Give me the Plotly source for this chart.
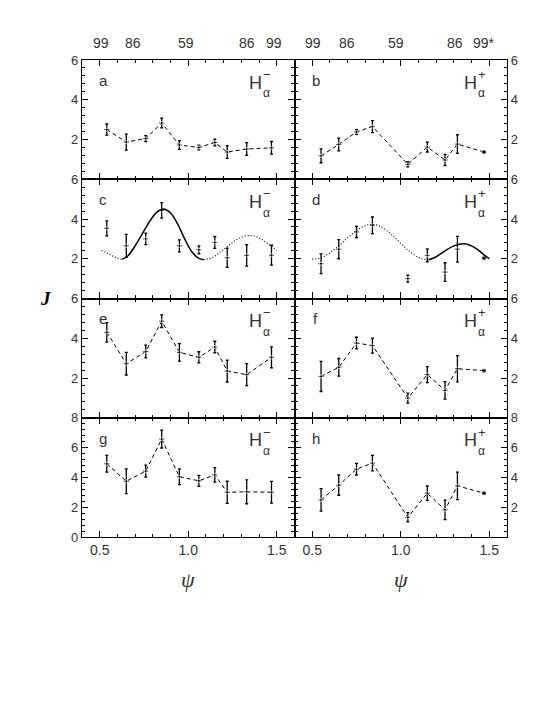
import plotly.graph_objects as go
from plotly.subplots import make_subplots

# ---- data ----
x_left = [0.54, 0.65, 0.76, 0.85, 0.95, 1.06, 1.15, 1.22, 1.33, 1.47]
x_right = [0.55, 0.65, 0.75, 0.84, 1.04, 1.15, 1.25, 1.32, 1.47]

y_a = [2.5, 1.87, 2.05, 2.83, 1.72, 1.6, 1.85, 1.37, 1.52, 1.58]
e_a = [0.28, 0.4, 0.15, 0.25, 0.22, 0.12, 0.17, 0.32, 0.32, 0.32]
y_b = [1.18, 1.75, 2.38, 2.65, 0.75, 1.62, 0.97, 1.77, 1.37]
e_b = [0.35, 0.32, 0.12, 0.3, 0.13, 0.25, 0.28, 0.47, 0]
y_c = [3.53, 2.65, 3.0, 4.43, 2.65, 2.45, 2.82, 2.05, 2.17, 2.18]
e_c = [0.38, 0.58, 0.29, 0.39, 0.3, 0.2, 0.3, 0.48, 0.54, 0.5]
y_d = [1.75, 2.48, 3.35, 3.68, 1.0, 2.17, 1.33, 2.48, 2.03]
e_d = [0.5, 0.48, 0.28, 0.42, 0.18, 0.33, 0.47, 0.65, 0]
y_e = [4.3, 2.72, 3.33, 4.86, 3.29, 3.04, 3.56, 2.35, 2.17, 3.04]
e_e = [0.49, 0.57, 0.32, 0.32, 0.44, 0.28, 0.29, 0.55, 0.55, 0.53]
y_f = [2.08, 2.54, 3.76, 3.63, 0.99, 2.17, 1.38, 2.47, 2.37]
e_f = [0.76, 0.44, 0.29, 0.38, 0.25, 0.4, 0.44, 0.66, 0]
y_g = [4.91, 3.74, 4.42, 6.57, 4.04, 3.77, 4.17, 3.0, 3.03, 3.0]
e_g = [0.56, 0.83, 0.4, 0.6, 0.53, 0.37, 0.49, 0.74, 0.8, 0.73]
y_h = [2.49, 3.48, 4.55, 4.96, 1.32, 2.94, 1.82, 3.43, 2.94]
e_h = [0.75, 0.68, 0.39, 0.52, 0.31, 0.48, 0.66, 0.92, 0]

# model curves (panel c and d)
c_dot1_x = [0.51, 0.55, 0.59, 0.626]
c_dot1_y = [2.42, 2.25, 2.07, 1.97]
c_solid_x = [0.626, 0.66, 0.70, 0.74, 0.78, 0.82, 0.859, 0.90, 0.94, 0.98, 1.02, 1.06, 1.087]
c_solid_y = [1.97, 2.15, 2.65, 3.25, 3.85, 4.32, 4.5, 4.3, 3.75, 3.0, 2.35, 2.02, 1.95]
c_dot2_x = [1.087, 1.14, 1.19, 1.24, 1.29, 1.346, 1.40, 1.45, 1.5]
c_dot2_y = [1.95, 2.08, 2.4, 2.75, 3.05, 3.17, 3.05, 2.75, 2.42]

d_dot_x = [0.5, 0.55, 0.60, 0.65, 0.70, 0.75, 0.80, 0.837, 0.88, 0.93, 0.98, 1.03, 1.08, 1.12, 1.158]
d_dot_y = [1.98, 2.05, 2.3, 2.65, 3.05, 3.42, 3.67, 3.73, 3.65, 3.35, 2.95, 2.52, 2.17, 2.0, 1.95]
d_solid_x = [1.158, 1.20, 1.25, 1.30, 1.36, 1.42, 1.47, 1.5]
d_solid_y = [1.95, 2.1, 2.4, 2.65, 2.75, 2.55, 2.2, 2.0]

panel_letters = ["a", "b", "c", "d", "e", "f", "g", "h"]
top_labels = ["99", "86", "59", "86", "99"]
top_labels_right = ["99", "86", "59", "86", "99*"]
top_pos = [0.505, 0.69, 0.985, 1.33, 1.485]
top_pos_right = [0.505, 0.694, 0.975, 1.305, 1.47]
x_ticks = [0.5, 1.0, 1.5]
x_ticktext = ["0.5", "1.0", "1.5"]

FONT = "Liberation Sans"
TXT = "#333333"

fig = make_subplots(rows=4, cols=2, horizontal_spacing=0, vertical_spacing=0)

panels = [
    (1, 1, x_left, y_a, e_a, True),
    (1, 2, x_right, y_b, e_b, True),
    (2, 1, x_left, y_c, e_c, False),
    (2, 2, x_right, y_d, e_d, False),
    (3, 1, x_left, y_e, e_e, True),
    (3, 2, x_right, y_f, e_f, True),
    (4, 1, x_left, y_g, e_g, True),
    (4, 2, x_right, y_h, e_h, True),
]

for r, c, xs, ys, es, dashed in panels:
    ex = [0.014 if e > 0 else 0 for e in es]
    sizes = [3 if e > 0 else 5 for e in es]
    fig.add_trace(go.Scatter(
        x=xs, y=ys, mode="lines+markers" if dashed else "markers",
        line=dict(color="black", width=1, dash="4px,3px"),
        marker=dict(color="black", size=sizes, symbol="circle"),
        error_y=dict(type="data", array=es, visible=True, color="black", thickness=1.3, width=1.5),
        error_x=dict(type="data", array=ex, visible=True, color="black", thickness=1, width=0),
        showlegend=False, hoverinfo="skip"), row=r, col=c)

# model curves
for xs, ys, solid, col in [(c_dot1_x, c_dot1_y, False, 1), (c_solid_x, c_solid_y, True, 1),
                           (c_dot2_x, c_dot2_y, False, 1), (d_dot_x, d_dot_y, False, 2),
                           (d_solid_x, d_solid_y, True, 2)]:
    fig.add_trace(go.Scatter(
        x=xs, y=ys, mode="lines",
        line=dict(color="black", width=1.5 if solid else 1.1,
                  dash="solid" if solid else "1px,2px", shape="spline"),
        showlegend=False, hoverinfo="skip"), row=2, col=col)

for r in range(1, 5):
    for c in (1, 2):
        yr = [0, 8] if r == 4 else [0, 6]
        if r == 4:
            tv = [0, 2, 4, 6, 8] if c == 1 else [2, 4, 6, 8]
        else:
            tv = [2, 4, 6]
        fig.update_xaxes(row=r, col=c, range=[0.4, 1.6], tickvals=x_ticks,
                         ticktext=x_ticktext, showticklabels=(r == 4),
                         ticks="inside", ticklen=6, tickwidth=1, tickcolor="black",
                         minor=dict(dtick=0.1, ticks="inside", ticklen=3, tickcolor="black", tickwidth=1),
                         showline=True, linecolor="black", linewidth=1.2, mirror="ticks",
                         showgrid=False, zeroline=False,
                         tickfont=dict(family=FONT, size=14, color=TXT))
        fig.update_yaxes(row=r, col=c, range=yr, tickvals=tv,
                         side="left" if c == 1 else "right",
                         ticks="inside", ticklen=6, tickwidth=1, tickcolor="black",
                         minor=dict(dtick=0.4, ticks="inside", ticklen=3, tickcolor="black", tickwidth=1),
                         showline=True, linecolor="black", linewidth=1.2, mirror="ticks",
                         showgrid=False, zeroline=False,
                         tickfont=dict(family=FONT, size=13, color=TXT))

ann = []
for i, letter in enumerate(panel_letters):
    idx = i + 1
    xs = "" if idx == 1 else str(idx)
    ann.append(dict(text=letter, xref=f"x{xs} domain", yref=f"y{xs} domain", x=0.1, y=0.83,
                    showarrow=False, xanchor="center", yanchor="middle",
                    font=dict(family=FONT, size=15, color=TXT)))
    right = (idx % 2 == 0)
    hx = 0.826 if right else 0.815
    ann.append(dict(text="H", xref=f"x{xs} domain", yref=f"y{xs} domain", x=hx, y=0.81,
                    showarrow=False, xanchor="center", yanchor="middle",
                    font=dict(family=FONT, size=18, color=TXT)))
    ann.append(dict(text="+" if right else "\u2212", xref=f"x{xs} domain", yref=f"y{xs} domain",
                    x=hx + 0.055, y=0.88, showarrow=False, xanchor="center", yanchor="middle",
                    font=dict(family=FONT, size=13, color=TXT)))
    ann.append(dict(text="\u03b1", xref=f"x{xs} domain", yref=f"y{xs} domain",
                    x=hx + 0.055, y=0.72, showarrow=False, xanchor="center", yanchor="middle",
                    font=dict(family=FONT, size=12, color=TXT)))

for t, p in zip(top_labels, top_pos):
    ann.append(dict(text=t, xref="x", yref="paper", x=p, y=1.035, showarrow=False,
                    xanchor="center", yanchor="middle", font=dict(family=FONT, size=14, color=TXT)))
for t, p in zip(top_labels_right, top_pos_right):
    ann.append(dict(text=t, xref="x2", yref="paper", x=p, y=1.035, showarrow=False,
                    xanchor="center", yanchor="middle", font=dict(family=FONT, size=14, color=TXT)))

ann.append(dict(text="<b><i>J</i></b>", xref="paper", yref="paper", x=-0.087, y=0.501,
                showarrow=False, xanchor="center", yanchor="middle",
                font=dict(family="Liberation Serif", size=19, color="black")))
for xr in ("x7", "x8"):
    ann.append(dict(text="<i>\u03c8</i>", xref=xr, yref="paper", x=1.0, y=-0.09,
                    showarrow=False, xanchor="center", yanchor="middle",
                    font=dict(family="Liberation Serif", size=22, color=TXT)))

fig.update_layout(width=545, height=705, margin=dict(l=74, r=46, t=52, b=176),
                  plot_bgcolor="white", paper_bgcolor="white", annotations=ann)

fig.write_html("out.html")
